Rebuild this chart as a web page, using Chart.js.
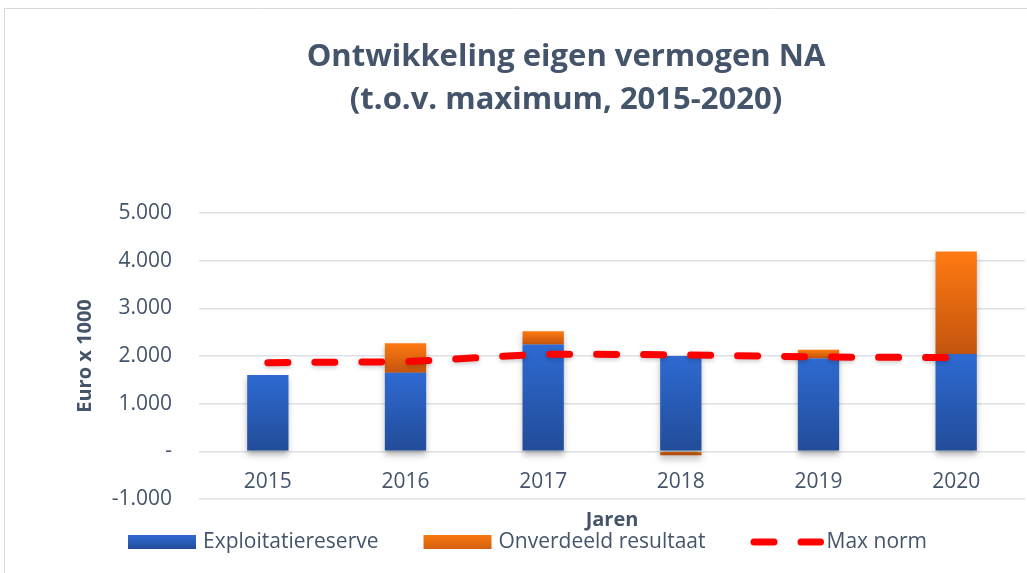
<!DOCTYPE html>
<html>
<head>
<meta charset="utf-8">
<script src="https://cdn.jsdelivr.net/npm/chart.js@4.4.1/dist/chart.umd.min.js"></script>
<style>
    html, body { margin: 0; padding: 0; background: #ffffff; }
    #chart { display: block; }
</style>
</head>
<body>
<canvas id="chart" width="1027" height="573"></canvas>
<script>
// Chart data (euro x 1000)
const years = ['2015', '2016', '2017', '2018', '2019', '2020'];
const exploitatiereserve = [1600, 1650, 2240, 2000, 1950, 2040];
const onverdeeldResultaat = [0, 620, 280, -80, 180, 2150];
const maxNorm = [1860, 1880, 2040, 2025, 1980, 1965];
const yTickValues = [-1000, 0, 1000, 2000, 3000, 4000, 5000];
const yTickLabels = ['-1.000', '-', '1.000', '2.000', '3.000', '4.000', '5.000'];

const titleLines = ['Ontwikkeling eigen vermogen NA', '(t.o.v. maximum, 2015-2020)'];
const xAxisTitle = 'Jaren';
const textColor = '#44546A';
const fontFamily = '"Open Sans", Lato, sans-serif';

// Vertical gradient for one bar segment, from its top value to its base value
function segmentGradient(context, startValue, endValue, topColor, bottomColor) {
    const chart = context.chart;
    const yScale = chart.scales.y;
    if (!chart.chartArea || !yScale) return topColor;
    const yTop = yScale.getPixelForValue(Math.max(startValue, endValue));
    const yBottom = yScale.getPixelForValue(Math.min(startValue, endValue));
    if (!isFinite(yTop) || !isFinite(yBottom) || yTop === yBottom) return topColor;
    const g = chart.ctx.createLinearGradient(0, yTop, 0, yBottom);
    g.addColorStop(0, topColor);
    g.addColorStop(1, bottomColor);
    return g;
}

// Title, frame, axis title and legend drawn on the canvas
const decorPlugin = {
    id: 'decor',
    beforeDraw(chart) {
        const ctx = chart.ctx;
        ctx.save();
        ctx.strokeStyle = '#D9D9D9';
        ctx.lineWidth = 1;
        ctx.beginPath();
        ctx.moveTo(4.5, 573);
        ctx.lineTo(4.5, 8.5);
        ctx.lineTo(1027, 8.5);
        ctx.stroke();
        ctx.restore();
    },
    afterDraw(chart) {
        const ctx = chart.ctx;
        const area = chart.chartArea;
        ctx.save();
        // title
        ctx.fillStyle = textColor;
        ctx.font = 'bold 31px ' + fontFamily;
        ctx.textAlign = 'center';
        ctx.textBaseline = 'middle';
        titleLines.forEach((line, i) => ctx.fillText(line, 566, 57 + i * 43));

        // x axis title
        ctx.font = 'bold 20px ' + fontFamily;
        ctx.fillText(xAxisTitle, (area.left + area.right) / 2, 520);

        // legend
        ctx.font = '21px ' + fontFamily;
        ctx.textAlign = 'left';
        const legendY = 542;
        let x = 128;
        const items = chart.data.datasets.slice().sort((a, b) => a.legendIndex - b.legendIndex);
        items.forEach(ds => {
            if (ds.type === 'line') {
                ctx.save();
                ctx.strokeStyle = ds.borderColor;
                ctx.lineWidth = ds.borderWidth;
                ctx.lineCap = 'round';
                ctx.setLineDash(ds.borderDash);
                ctx.beginPath();
                ctx.moveTo(x + 3.5, legendY);
                ctx.lineTo(x + 70, legendY);
                ctx.stroke();
                ctx.restore();
                x += 76;
            } else {
                const g = ctx.createLinearGradient(0, legendY - 7, 0, legendY + 7);
                g.addColorStop(0, ds.legendColors[0]);
                g.addColorStop(1, ds.legendColors[1]);
                ctx.fillStyle = g;
                ctx.fillRect(x, legendY - 7, 68, 14);
                x += 75;
            }
            ctx.fillStyle = textColor;
            ctx.fillText(ds.label, x, legendY);
            x += ctx.measureText(ds.label).width + 45;
        });
        ctx.restore();
    },
    beforeDatasetDraw(chart, args) {
        const ds = chart.data.datasets[args.index];
        const ctx = chart.ctx;
        if (ds.type === 'bar') {
            ctx.shadowColor = 'rgba(0, 0, 0, 0.28)';
            ctx.shadowBlur = 6;
            ctx.shadowOffsetY = 4;
        } else {
            ctx.shadowColor = 'rgba(0, 0, 0, 0.2)';
            ctx.shadowBlur = 4;
            ctx.shadowOffsetY = 2;
        }
    },
    afterDatasetDraw(chart) {
        const ctx = chart.ctx;
        ctx.shadowColor = 'rgba(0, 0, 0, 0)';
        ctx.shadowBlur = 0;
        ctx.shadowOffsetY = 0;
    }
};

const ctx = document.getElementById('chart').getContext('2d');
new Chart(ctx, {
    data: {
        labels: years,
        datasets: [
            {
                type: 'bar',
                label: 'Exploitatiereserve',
                data: exploitatiereserve,
                legendIndex: 0,
                legendColors: ['#2E6AD2', '#234E9D'],
                backgroundColor: (c) => segmentGradient(c, 0, exploitatiereserve[c.dataIndex], '#2E6AD2', '#224C98'),
                borderWidth: 0,
                barPercentage: 0.5,
                categoryPercentage: 0.6,
                order: 1
            },
            {
                type: 'bar',
                label: 'Onverdeeld resultaat',
                data: onverdeeldResultaat,
                legendIndex: 1,
                legendColors: ['#F9790F', '#D3600F'],
                backgroundColor: (c) => {
                    const v = onverdeeldResultaat[c.dataIndex];
                    const base = v >= 0 ? exploitatiereserve[c.dataIndex] : 0;
                    return segmentGradient(c, base, base + v, '#FF7A12', '#C4540E');
                },
                borderWidth: 0,
                barPercentage: 0.5,
                categoryPercentage: 0.6,
                order: 1
            },
            {
                type: 'line',
                label: 'Max norm',
                data: maxNorm,
                legendIndex: 2,
                stack: 'norm',
                borderColor: '#FF0000',
                borderWidth: 7,
                borderDash: [20, 27],
                borderCapStyle: 'round',
                pointRadius: 0,
                tension: 0,
                fill: false,
                order: 0
            }
        ]
    },
    options: {
        responsive: false,
        animation: false,
        layout: {
            padding: { left: 60, right: 2, top: 213, bottom: 74 }
        },
        plugins: {
            legend: { display: false },
            title: { display: false },
            tooltip: { enabled: false }
        },
        scales: {
            x: {
                stacked: true,
                position: { y: 0 },
                grid: { display: false, drawTicks: false },
                border: { display: false },
                ticks: {
                    color: textColor,
                    font: { family: fontFamily, size: 21 },
                    padding: 18,
                    maxRotation: 0,
                    autoSkip: false
                }
            },
            y: {
                stacked: true,
                min: -1000,
                max: 5000,
                afterBuildTicks(scale) {
                    scale.ticks = yTickValues.map(v => ({ value: v }));
                },
                grid: {
                    color: '#DDE1E6',
                    lineWidth: 1.5,
                    drawTicks: false
                },
                border: { display: false },
                ticks: {
                    color: textColor,
                    font: { family: fontFamily, size: 21 },
                    padding: 27,
                    callback: (value) => {
                        const i = yTickValues.indexOf(value);
                        return i >= 0 ? yTickLabels[i] : '';
                    }
                },
                title: {
                    display: true,
                    text: 'Euro x 1000',
                    color: textColor,
                    font: { family: fontFamily, size: 20, weight: 'bold' },
                    padding: { top: 13, bottom: 0 }
                },
                afterFit(scale) { scale.width = 139; }
            }
        }
    },
    plugins: [decorPlugin]
});
</script>
</body>
</html>
